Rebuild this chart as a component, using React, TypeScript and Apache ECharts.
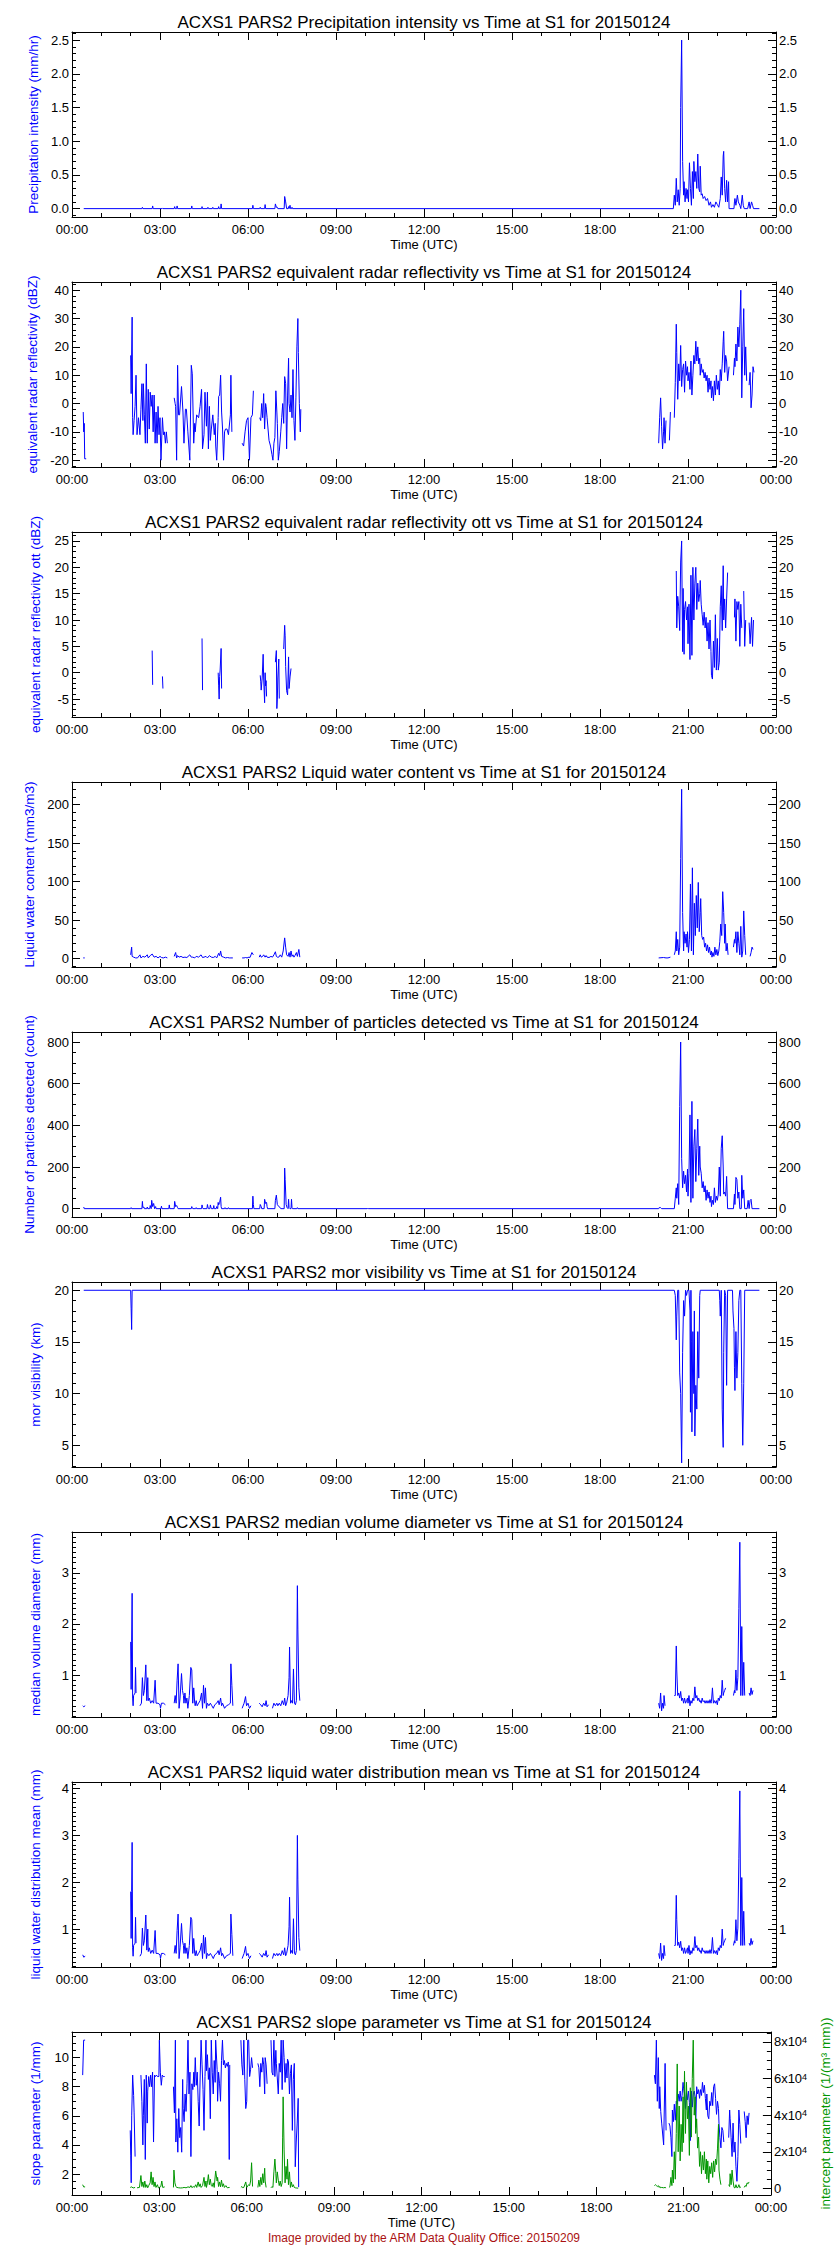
import React, { useEffect, useRef } from "react";
import * as echarts from "echarts";

type Pt = [number, number | null];

const FONT = '"Liberation Sans", Arial, Helvetica, sans-serif';
const BLUE = "#0000ff";
const GREEN = "#009600";
const FOOT_RED = "#aa1111";

// ---------- time axis (minutes since 00:00 UTC) ----------
const X_MIN = 0;
const X_MAX = 1440;
const X_MAJOR = 180;

// ---------- panel texts ----------
const TITLES = [
  "ACXS1 PARS2 Precipitation intensity vs Time at S1 for 20150124",
  "ACXS1 PARS2 equivalent radar reflectivity vs Time at S1 for 20150124",
  "ACXS1 PARS2 equivalent radar reflectivity ott vs Time at S1 for 20150124",
  "ACXS1 PARS2 Liquid water content vs Time at S1 for 20150124",
  "ACXS1 PARS2 Number of particles detected vs Time at S1 for 20150124",
  "ACXS1 PARS2 mor visibility vs Time at S1 for 20150124",
  "ACXS1 PARS2 median volume diameter vs Time at S1 for 20150124",
  "ACXS1 PARS2 liquid water distribution mean vs Time at S1 for 20150124",
  "ACXS1 PARS2 slope parameter vs Time at S1 for 20150124",
];
const Y_NAMES = [
  "Precipitation intensity (mm/hr)",
  "equivalent radar reflectivity (dBZ)",
  "equivalent radar reflectivity ott (dBZ)",
  "Liquid water content (mm3/m3)",
  "Number of particles detected (count)",
  "mor visibility (km)",
  "median volume diameter (mm)",
  "liquid water distribution mean (mm)",
  "slope parameter (1/mm)",
];
const RIGHT_NAME = "intercept parameter (1/(m\u00b3 mm))";
const FOOTNOTE = "Image provided by the ARM Data Quality Office: 20150209";

// ---------- axis ranges & ticks ----------
const Y_RANGES: [number, number][] = [
  [-0.124, 2.62],
  [-22.4, 42.9],
  [-8.4, 26.7],
  [-10.8, 229.4],
  [-40, 848],
  [2.9, 20.8],
  [0.18, 3.8],
  [0.19, 4.14],
  [0.56, 11.76],
];
const Y_TICKS: number[][] = [
  [0, 0.5, 1, 1.5, 2, 2.5],
  [-20, -10, 0, 10, 20, 30, 40],
  [-5, 0, 5, 10, 15, 20, 25],
  [0, 50, 100, 150, 200],
  [0, 200, 400, 600, 800],
  [5, 10, 15, 20],
  [1, 2, 3],
  [1, 2, 3, 4],
  [2, 4, 6, 8, 10],
];
const Y_MINOR_STEP = [0.1, 2, 1, 10, 50, 1, 0.1, 0.1, 0.5];
const Y_DECIMALS = [1, 0, 0, 0, 0, 0, 0, 0, 0];
const INTERCEPT_RANGE: [number, number] = [-3636, 85455];
const INTERCEPT_TICKS = [0, 20000, 40000, 60000, 80000];
const INTERCEPT_MINOR_STEP = 5000;

// ---------- data: [minute of day, value] ----------
const precipIntensity: Pt[] = [
  [24, 0], [143, 0], [144, 0.02], [145, 0], [164, 0], [165, 0.04], [166, 0], [184, 0], [185, 0.01], [186, 0],
  [209, 0], [210, 0.03], [211, 0], [214, 0], [215, 0.04], [216, 0], [244, 0], [245, 0.04], [246, 0],
  [265, 0], [266, 0.03], [267, 0], [277, 0], [278, 0.02], [279, 0], [287, 0], [288, 0.02], [289, 0],
  [299, 0], [300, 0.03], [301, 0], [304, 0], [305, 0.07], [306, 0], [369, 0], [370, 0.05], [371, 0],
  [384, 0], [385, 0.02], [386, 0], [394, 0], [395, 0.06], [396, 0], [415, 0], [416, 0.07], [418, 0.02],
  [420, 0.02], [421, 0], [434, 0], [435, 0.18], [437, 0.1], [438, 0.1], [439, 0], [442, 0], [443, 0.03],
  [444, 0], [445, 0], [446, 0.05], [447, 0], [449, 0], [450, 0.02], [451, 0],
  [1230, 0], [1232, 0.2], [1234, 0.05], [1236, 0.45], [1238, 0.1], [1240, 0.28], [1242, 0.05], [1244, 0.3],
  [1245, 1.5], [1247, 2.5], [1249, 0.7], [1251, 0.2], [1252, 0.4], [1254, 0.1], [1256, 0.3], [1258, 0.15],
  [1259, 0.28], [1261, 0.1], [1263, 0.68], [1265, 0.3], [1267, 0.05], [1269, 0.55], [1271, 0.15], [1272, 0.7],
  [1274, 0.4], [1276, 0.55], [1278, 0.3], [1280, 0.81], [1282, 0.3], [1284, 0.25], [1285, 0.63], [1287, 0.2],
  [1289, 0.22], [1291, 0.15], [1294, 0.18], [1297, 0.12], [1300, 0.15], [1303, 0.05], [1306, 0.1], [1308, 0.02],
  [1311, 0.06], [1314, 0.02], [1317, 0.1], [1320, 0.06], [1323, 0.02], [1326, 0.15], [1328, 0.47], [1330, 0.2],
  [1332, 0.78], [1333, 0.85], [1335, 0.3], [1337, 0.1], [1339, 0.42], [1341, 0.1], [1343, 0.4], [1344, 0],
  [1354, 0], [1355, 0.1], [1356, 0.15], [1358, 0.05], [1361, 0.2], [1363, 0.1], [1366, 0.05], [1368, 0],
  [1371, 0.2], [1373, 0.05], [1375, 0], [1382, 0], [1385, 0.1], [1387, 0], [1390, 0.1], [1392, 0.05],
  [1394, 0], [1406, 0],
];

const reflectivity: Pt[] = [
  [23, -3], [24, -10], [25, -7], [26, -19.5], [29, -19.5], [30, null],
  [120, 17], [121, 3.5], [123, 30.5], [124, -5], [125, -11], [127, -6], [129, -1], [131, 10], [133, -11],
  [136, -5], [139, -11], [141, -2], [143, 7], [145, -6], [146, 7], [148, -4], [150, -14], [152, 14], [154, -14],
  [156, 5], [158, -9], [160, 4], [162, -1], [164, 3], [166, -10], [168, 3], [170, -14], [172, -3], [174, -14],
  [176, -1], [178, -11], [180, -5], [182, -20], [185, -5], [187, -11], [189, -10], [191, -14], [193, -10],
  [195, -14], [197, null],
  [209, 2], [211, 0], [212, -1], [214, -20], [216, 13.5], [218, -4], [220, -4], [224, 6], [227, -3], [229, -14],
  [232, -2], [234, -2], [237, -10], [241, -20], [244, 13.5], [246, 10.5], [249, -14], [251, -7], [252, -10],
  [255, -4], [259, -5], [262, -1], [265, 5], [267, -16], [270, -11], [272, 4], [275, -8], [277, 4], [279, -16],
  [281, -1], [283, -13], [285, -9], [288, -4], [291, -11], [293, -7], [294, -15], [296, -20], [299, -5],
  [300, 2.5], [302, 3], [304, 10], [306, -3], [308, -9], [310, -20], [312, -10], [314, -9], [317, -9],
  [320, -11], [324, -4], [325, 10], [327, -10], [329, null],
  [348, -14], [351, -15], [354, -10], [357, -6], [360, -5], [363, -20], [366, -5], [369, -4], [371, 4.5], [373, null],
  [384, -5], [386, -6], [388, 0], [390, -5], [392, 3.5], [394, -9], [396, 0], [397, -1], [399, -5], [403, -13],
  [406, -15], [409, -18], [411, -20], [413, -14], [415, -12], [417, 4.5], [419, -3], [420, -7], [422, -20],
  [424, -17], [427, -10], [429, -5], [431, 0], [433, -7], [435, 9.5], [437, 7], [439, -16], [441, 3], [443, 16],
  [444, 0], [446, -3], [448, 3], [450, -5], [452, 12], [454, -6], [456, -13], [458, 2], [460, 20], [462, 30],
  [463, 18], [465, 0], [467, -10], [468, -2], [469, null],
  [1200, -14], [1202, -5], [1204, 2], [1206, -8], [1208, -16], [1210, -10], [1211, -5], [1213, -14], [1215, -6],
  [1217, null], [1222, -13], [1224, -3], [1226, null],
  [1232, -5], [1234, 7.5], [1236, 28], [1237, 18], [1239, 1.5], [1241, 14], [1243, 8], [1245, 20.5], [1247, 6],
  [1249, 12], [1251, 14], [1253, 4], [1255, 15], [1257, 10], [1259, 13], [1260, 8], [1262, 11], [1264, 5],
  [1266, 15], [1268, 3], [1270, 10], [1272, 17], [1274, 14], [1276, 22], [1278, 15], [1280, 20], [1282, 14],
  [1284, 16], [1285, 10], [1287, 14], [1289, 11], [1291, 12], [1293, 9], [1295, 11], [1297, 8], [1299, 10],
  [1301, 4], [1303, 9], [1305, 5], [1307, 8], [1308, 2], [1310, 6], [1312, 1], [1314, 8], [1316, 3], [1318, 10],
  [1320, 5], [1322, 8], [1324, 3], [1326, 12], [1328, 8], [1330, 14], [1332, 22], [1333, 25.5], [1335, 11],
  [1337, 17], [1339, 15], [1341, 8], [1344, 13], [1346, null],
  [1353, 10], [1355, 16], [1356, 13], [1358, 21], [1360, 15], [1362, 27], [1364, 20], [1366, 28], [1368, 40],
  [1370, 2], [1372, 20], [1374, 33.5], [1376, 10], [1378, 20], [1380, 8], [1382, null],
  [1385, 6.5], [1387, 11], [1389, -1.5], [1391, 3], [1393, 13], [1395, 11],
];

const reflectivityOtt: Pt[] = [
  [164, 4.2], [165, -2.3], [166, null], [185, -0.7], [186, -3], [187, null], [266, 6.5], [267, -3.3], [268, null],
  [299, 0], [300, -2.5], [301, -5], [302, -0.7], [303, 0.5], [305, 4.6], [306, -3], [307, null],
  [385, -0.5], [386, -1.6], [387, -3.3], [389, -1], [391, 3.5], [392, -1], [394, -5.7], [395, 0], [396, -2.5],
  [397, -1.5], [398, -4.5], [399, null],
  [416, 2], [418, 4.2], [419, -6.8], [420, -5], [421, -1], [423, 2.6], [424, -4.9], [425, null],
  [433, 4.5], [435, 9], [436, 7], [437, 1.2], [439, -3.4], [441, -4.2], [443, 3], [444, -3], [446, -0.8],
  [448, 0.8], [449, null],
  [1236, 19.3], [1237, 8.5], [1239, 14.5], [1241, 12.5], [1243, 8], [1245, 21], [1247, 25], [1249, 4], [1250, 16],
  [1252, 3.5], [1253, 12], [1255, 13.5], [1257, 10], [1259, 12.5], [1260, 5.5], [1262, 13], [1264, 2.5],
  [1266, 18.5], [1268, 3.3], [1270, 20], [1272, 10], [1274, 17], [1276, 20], [1278, 12], [1280, 17],
  [1282, 13.5], [1284, 15], [1285, 17.5], [1287, 13], [1289, 11], [1291, 9], [1293, 11.5], [1295, 8.5],
  [1297, 10.5], [1299, 6], [1301, 9.5], [1303, 4.5], [1305, 10], [1307, 4], [1308, -0.5], [1310, -1.2],
  [1312, 6], [1314, 1], [1316, 11], [1318, 0.5], [1320, 6.5], [1322, 0.5], [1324, 2], [1326, 12.5],
  [1328, 16.5], [1330, 8], [1332, 20.3], [1333, 10], [1335, 14], [1337, 8.5], [1339, 14], [1341, 19], [1342, null],
  [1355, 10.5], [1356, 14], [1358, 6], [1360, 13.5], [1362, 12], [1364, 13.5], [1366, 5], [1368, 13],
  [1370, 8.5], [1371, null], [1374, 15.5], [1376, 5], [1378, 10], [1379, null],
  [1385, 9.5], [1387, 5.5], [1390, 10.5], [1392, 5], [1394, 10],
];

const liquidWaterContent: Pt[] = [
  [23, 1], [26, 1], [27, null],
  [120, 5], [122, 15], [123, 3], [126, 2], [130, 1], [134, 1], [139, 5], [141, 1], [145, 3], [149, 2], [154, 5],
  [156, 1], [160, 4], [164, 6], [168, 2], [172, 3], [176, 1], [180, 3], [183, 1.5], [187, 1], [191, 2], [195, 1],
  [197, null],
  [209, 3], [212, 8], [214, 1], [216, 4], [219, 2], [223, 3], [227, 1.5], [231, 2], [235, 1.5], [241, 5], [244, 2],
  [247, 2], [251, 1], [254, 3], [259, 2], [264, 5], [267, 1.5], [270, 2], [274, 3], [277, 1], [281, 4], [285, 2],
  [289, 1.5], [293, 3], [296, 1], [300, 7], [302, 4], [304, 10], [306, 3], [310, 2], [314, 1], [318, 1.5],
  [322, 1], [325, 1], [329, 1], [331, null],
  [348, 1], [352, 1], [355, 1.5], [358, 1], [362, 2], [364, 1.5], [368, 8], [371, 5], [373, null],
  [383, 2], [385, 5], [387, 2], [390, 3], [392, 5], [395, 2], [397, 4], [399, 2], [403, 1.5], [407, 3], [410, 2],
  [413, 5], [416, 9], [418, 3], [420, 2], [423, 2], [426, 5], [429, 2], [432, 10], [435, 27], [437, 15], [439, 5],
  [442, 3], [444, 8], [446, 2], [448, 10], [450, 3], [452, 5], [454, 2], [456, 4], [459, 8], [461, 3], [464, 12],
  [466, 2], [468, null],
  [1200, 1], [1210, 1.5], [1215, 1], [1219, 1], [1224, 2], [1225, null],
  [1232, 5], [1234, 10], [1236, 35], [1237, 10], [1239, 25], [1241, 5], [1243, 15], [1245, 130], [1247, 220],
  [1249, 60], [1251, 10], [1252, 35], [1254, 20], [1256, 32], [1258, 15], [1259, 35], [1261, 8], [1263, 25],
  [1265, 97], [1267, 10], [1269, 118], [1271, 5], [1273, 72], [1275, 30], [1277, 82], [1279, 40], [1281, 99],
  [1283, 35], [1285, 60], [1286, 78], [1288, 30], [1290, 25], [1292, 28], [1294, 15], [1296, 20], [1298, 10],
  [1300, 18], [1302, 8], [1304, 15], [1306, 5], [1308, 10], [1309, 2], [1311, 8], [1313, 3], [1315, 15],
  [1317, 5], [1319, 12], [1321, 4], [1323, 10], [1325, 22], [1327, 45], [1329, 30], [1331, 87], [1333, 60],
  [1335, 20], [1336, 45], [1338, 10], [1340, 20], [1342, 5], [1343, null],
  [1353, 15], [1355, 25], [1356, 20], [1358, 35], [1360, 8], [1362, 35], [1364, 20], [1366, 5], [1368, 42],
  [1370, 2], [1372, 10], [1374, 62], [1376, 30], [1378, 5], [1379, null],
  [1387, 3], [1389, 8], [1391, 15], [1393, 12],
];

const particleCount: Pt[] = [
  [24, 8], [25, 0], [120, 0], [121, 5], [122, 0], [143, 0], [144, 35], [145, 5], [147, 8], [148, 0], [153, 0],
  [154, 8], [155, 0], [159, 0], [160, 15], [162, 0], [163, 40], [165, 10], [167, 25], [169, 0], [171, 10],
  [172, 0], [182, 0], [183, 12], [184, 0], [198, 0], [199, 18], [200, 0], [209, 0], [210, 35], [212, 10],
  [214, 15], [216, 5], [217, 0], [244, 0], [245, 10], [246, 5], [247, 0], [253, 0], [254, 5], [255, 0],
  [265, 0], [266, 18], [267, 5], [268, 0], [276, 0], [277, 20], [278, 8], [279, 0], [282, 0], [283, 18],
  [284, 8], [285, 0], [289, 0], [290, 15], [291, 0], [295, 0], [296, 10], [298, 0], [299, 30], [300, 18],
  [302, 30], [304, 55], [305, 10], [306, 0], [312, 0], [313, 5], [314, 0], [319, 0], [320, 5], [321, 0],
  [369, 0], [370, 60], [371, 20], [372, 0], [384, 0], [385, 20], [387, 10], [388, 0], [393, 0], [394, 45],
  [396, 25], [398, 30], [399, 10], [400, 0], [415, 0], [416, 40], [418, 65], [420, 20], [423, 10], [426, 5],
  [427, 0], [434, 0], [435, 195], [436, 140], [437, 80], [438, 20], [440, 5], [442, 0], [443, 45], [444, 5],
  [446, 0], [448, 0], [449, 45], [450, 5], [451, 0], [460, 0], [461, 5], [462, 0], [604, 0], [605, 3], [606, 0],
  [1200, 0], [1201, 5], [1204, 5], [1206, 0], [1232, 0], [1234, 50], [1236, 100], [1237, 50], [1239, 120],
  [1241, 20], [1243, 490], [1245, 800], [1247, 240], [1249, 100], [1251, 180], [1253, 120], [1255, 160],
  [1257, 80], [1259, 190], [1260, 60], [1262, 170], [1264, 450], [1266, 30], [1268, 515], [1270, 50],
  [1272, 300], [1274, 380], [1276, 130], [1278, 290], [1280, 430], [1282, 160], [1284, 300], [1285, 200],
  [1287, 170], [1289, 100], [1291, 130], [1293, 80], [1295, 110], [1297, 40], [1299, 90], [1301, 50],
  [1303, 80], [1305, 30], [1307, 60], [1308, 10], [1310, 40], [1312, 20], [1314, 100], [1316, 30], [1318, 60],
  [1320, 40], [1322, 70], [1324, 200], [1326, 60], [1328, 290], [1330, 350], [1332, 200], [1333, 70],
  [1335, 80], [1337, 60], [1339, 155], [1341, 0], [1353, 0], [1355, 70], [1356, 20], [1358, 150], [1360, 140],
  [1362, 50], [1364, 80], [1366, 0], [1369, 0], [1370, 160], [1372, 50], [1374, 90], [1376, 0], [1381, 0],
  [1383, 40], [1385, 0], [1387, 40], [1389, 45], [1391, 0], [1406, 0],
];

const morVisibility: Pt[] = [
  [24, 20], [120, 20], [121, 18.2], [122, 16.2], [123, 20], [1232, 20], [1234, 19.5], [1236, 15.2], [1237, 17.5],
  [1239, 20], [1241, 20], [1243, 12], [1245, 10], [1247, 3.3], [1249, 14], [1251, 19], [1253, 17.5], [1255, 20],
  [1257, 19.5], [1259, 20], [1262, 20], [1264, 18], [1265, 8.2], [1266, 20], [1267, 15], [1268, 6.3], [1270, 16],
  [1272, 10], [1273, 18], [1274, 5.9], [1276, 10.8], [1278, 8.5], [1280, 16], [1282, 11.5], [1284, 19.5],
  [1285, 20], [1324, 20], [1325, 19], [1326, 17.5], [1328, 20], [1330, 8.5], [1332, 4.8], [1333, 14], [1335, 20],
  [1337, 19.5], [1339, 10.8], [1341, 20], [1351, 20], [1352, 18], [1354, 16.3], [1355, 12.5], [1356, 10.3],
  [1358, 16], [1360, 11.5], [1362, 14], [1364, 19], [1366, 20], [1368, 20], [1370, 11], [1372, 5], [1374, 11],
  [1376, 20], [1406, 20],
];

const medianVolumeDiameter: Pt[] = [
  [22, 0.4], [24, 0.38], [27, 0.4], [28, null],
  [120, 1.65], [121, 0.72], [122, 1.65], [123, 2.6], [124, 0.55], [125, 0.4], [126, 0.6], [129, 0.65], [130, 1.15],
  [131, 0.65], [133, null], [139, 0.4], [142, 0.45], [144, 0.95], [146, 0.6], [148, 0.7], [151, 1.2], [153, 0.5],
  [155, 0.95], [156, 0.5], [158, 0.55], [161, 0.45], [164, 0.5], [167, 0.45], [170, 0.9], [172, 0.45],
  [176, 0.45], [180, 0.42], [181, 0.35], [183, 0.45], [187, 0.45], [191, 0.42], [192, null],
  [209, 0.45], [211, 0.6], [213, 0.45], [215, 0.9], [217, 1.22], [219, 0.35], [221, 0.55], [224, 1.03], [226, 0.7],
  [228, 0.6], [229, 0.45], [231, 0.65], [233, 0.45], [235, 0.55], [237, 0.35], [240, 0.6], [243, 1.15],
  [245, 1.1], [247, 0.45], [249, 0.75], [251, 0.45], [252, 0.4], [254, 0.5], [256, 0.4], [259, 0.45], [262, 0.5],
  [265, 0.65], [267, 0.35], [269, 0.8], [271, 0.45], [273, 0.75], [275, 0.35], [277, 0.45], [280, 0.4],
  [283, 0.45], [286, 0.4], [289, 0.35], [292, 0.42], [296, 0.45], [299, 0.5], [301, 0.42], [304, 0.55],
  [306, 0.4], [308, 0.45], [312, 0.35], [316, 0.4], [320, 0.42], [324, 0.45], [325, 1.22], [327, 0.8],
  [329, 0.4], [330, null],
  [348, 0.35], [352, 0.45], [355, 0.58], [357, 0.4], [360, 0.45], [363, 0.35], [366, 0.4], [367, null],
  [383, 0.45], [386, 0.42], [389, 0.38], [392, 0.45], [395, 0.4], [397, 0.5], [399, 0.38], [402, 0.42], [403, null],
  [410, 0.35], [413, 0.45], [416, 0.4], [419, 0.45], [421, 0.4], [424, 0.45], [427, 0.4], [430, 0.5], [433, 0.42],
  [435, 0.55], [437, 0.4], [439, 0.45], [442, 0.6], [444, 0.95], [445, 1.55], [447, 0.45], [449, 0.5],
  [451, 0.45], [453, 1.12], [455, 0.45], [457, 0.42], [459, 0.5], [461, 2.75], [462, 1.9], [464, 0.75],
  [466, 0.5], [467, null],
  [1200, 0.45], [1202, 0.35], [1204, 0.65], [1206, 0.3], [1208, 0.45], [1210, 0.35], [1211, 0.6], [1213, 0.4],
  [1214, null], [1220, 0.7], [1221, null],
  [1232, 0.6], [1234, 0.6], [1236, 1.57], [1237, 1.1], [1239, 0.6], [1241, 0.65], [1243, 0.55], [1245, 0.68],
  [1247, 0.5], [1249, 0.55], [1251, 0.45], [1253, 0.55], [1255, 0.45], [1257, 0.5], [1259, 0.55], [1260, 0.45],
  [1262, 0.6], [1264, 0.4], [1266, 0.5], [1268, 0.45], [1270, 0.55], [1272, 0.5], [1274, 0.77], [1276, 0.55],
  [1278, 0.6], [1280, 0.5], [1282, 0.55], [1284, 0.48], [1285, 0.5], [1287, 0.45], [1289, 0.55], [1291, 0.48],
  [1293, 0.5], [1295, 0.45], [1297, 0.5], [1299, 0.45], [1301, 0.5], [1303, 0.45], [1305, 0.52], [1307, 0.45],
  [1308, 0.48], [1310, 0.75], [1312, 0.45], [1314, 0.5], [1316, 0.45], [1318, 0.5], [1320, 0.42], [1322, 0.55],
  [1324, 0.5], [1326, 0.6], [1328, 0.55], [1330, 0.9], [1332, 0.6], [1333, 0.65], [1335, 0.7], [1337, 0.75],
  [1338, null],
  [1353, 0.6], [1355, 0.7], [1356, 0.65], [1358, 1.1], [1360, 0.7], [1362, 0.95], [1364, 2.3], [1366, 3.6],
  [1368, 0.6], [1370, 1.95], [1372, 0.6], [1374, 1.25], [1376, 0.6], [1377, null],
  [1385, 0.65], [1387, 0.6], [1389, 0.75], [1391, 0.62], [1393, 0.7],
];

const lwDistributionMean: Pt[] = [
  [22, 0.45], [24, 0.4], [27, 0.42], [28, null],
  [120, 1.8], [121, 0.8], [122, 1.8], [123, 2.85], [124, 0.6], [125, 0.42], [126, 0.65], [129, 0.7], [130, 1.25],
  [131, 0.7], [133, null], [139, 0.42], [142, 0.48], [144, 1.02], [146, 0.65], [148, 0.75], [151, 1.3], [153, 0.55],
  [155, 1.0], [156, 0.52], [158, 0.6], [161, 0.48], [164, 0.55], [167, 0.48], [170, 0.97], [172, 0.48],
  [176, 0.48], [180, 0.45], [181, 0.37], [183, 0.48], [187, 0.48], [191, 0.45], [192, null],
  [209, 0.48], [211, 0.65], [213, 0.48], [215, 0.97], [217, 1.32], [219, 0.37], [221, 0.6], [224, 1.12],
  [226, 0.75], [228, 0.65], [229, 0.48], [231, 0.7], [233, 0.48], [235, 0.6], [237, 0.37], [240, 0.65],
  [243, 1.25], [245, 1.2], [247, 0.48], [249, 0.8], [251, 0.48], [252, 0.43], [254, 0.54], [256, 0.43],
  [259, 0.48], [262, 0.54], [265, 0.7], [267, 0.37], [269, 0.87], [271, 0.48], [273, 0.82], [275, 0.37],
  [277, 0.48], [280, 0.43], [283, 0.48], [286, 0.43], [289, 0.37], [292, 0.45], [296, 0.48], [299, 0.54],
  [301, 0.45], [304, 0.6], [306, 0.43], [308, 0.48], [312, 0.37], [316, 0.43], [320, 0.45], [324, 0.48],
  [325, 1.32], [327, 0.88], [329, 0.43], [330, null],
  [348, 0.37], [352, 0.48], [355, 0.63], [357, 0.43], [360, 0.48], [363, 0.37], [366, 0.43], [367, null],
  [383, 0.48], [386, 0.45], [389, 0.4], [392, 0.48], [395, 0.43], [397, 0.54], [399, 0.4], [402, 0.45], [403, null],
  [410, 0.37], [413, 0.48], [416, 0.43], [419, 0.48], [421, 0.43], [424, 0.48], [427, 0.43], [430, 0.54],
  [433, 0.45], [435, 0.6], [437, 0.43], [439, 0.48], [442, 0.65], [444, 1.05], [445, 1.68], [447, 0.48],
  [449, 0.54], [451, 0.48], [453, 1.22], [455, 0.48], [457, 0.45], [459, 0.54], [461, 3.0], [462, 2.05],
  [464, 0.82], [466, 0.54], [467, null],
  [1200, 0.48], [1202, 0.37], [1204, 0.7], [1206, 0.33], [1208, 0.48], [1210, 0.37], [1211, 0.65], [1213, 0.43],
  [1214, null], [1220, 0.77], [1221, null],
  [1232, 0.65], [1234, 0.65], [1236, 1.72], [1237, 1.2], [1239, 0.65], [1241, 0.72], [1243, 0.6], [1245, 0.74],
  [1247, 0.54], [1249, 0.6], [1251, 0.48], [1253, 0.6], [1255, 0.48], [1257, 0.54], [1259, 0.6], [1260, 0.48],
  [1262, 0.65], [1264, 0.45], [1266, 0.54], [1268, 0.48], [1270, 0.6], [1272, 0.54], [1274, 0.84], [1276, 0.6],
  [1278, 0.65], [1280, 0.54], [1282, 0.6], [1284, 0.52], [1285, 0.54], [1287, 0.48], [1289, 0.6], [1291, 0.52],
  [1293, 0.54], [1295, 0.48], [1297, 0.54], [1299, 0.48], [1301, 0.54], [1303, 0.48], [1305, 0.56], [1307, 0.48],
  [1308, 0.52], [1310, 0.82], [1312, 0.48], [1314, 0.54], [1316, 0.48], [1318, 0.54], [1320, 0.45], [1322, 0.6],
  [1324, 0.54], [1326, 0.65], [1328, 0.6], [1330, 1.0], [1332, 0.65], [1333, 0.7], [1335, 0.75], [1337, 0.8],
  [1338, null],
  [1353, 0.65], [1355, 0.75], [1356, 0.7], [1358, 1.2], [1360, 0.75], [1362, 1.02], [1364, 2.5], [1366, 3.95],
  [1368, 0.65], [1370, 2.1], [1372, 0.65], [1374, 1.38], [1376, 0.65], [1377, null],
  [1385, 0.7], [1387, 0.65], [1389, 0.8], [1391, 0.67], [1393, 0.75],
];

const slopeParameter: Pt[] = [
  [22, 8.8], [24, 11.2], [27, 11.2], [28, null],
  [120, 5], [121, 3.3], [122, 1.4], [123, 6], [125, 8.8], [127, 7.4], [128, 6.2], [130, 3.2], [131, null],
  [142, 8.8], [144, 7], [146, 4], [147, 6], [149, 8.5], [151, 3], [153, 8.8], [155, 5.5], [156, 7.7], [158, 8.7],
  [160, 8], [162, 8.8], [164, 8], [166, 9], [168, 4.2], [170, 8.8], [172, 8.7], [174, 8.8], [176, 8.7],
  [179, 8.7], [180, 11.2], [182, 9], [184, 8.1], [186, 8.8], [188, 8.7], [191, 8.7], [192, null],
  [209, 8], [211, 6.2], [213, 11.2], [214, 4.2], [216, 5.8], [218, 3.5], [220, 6.5], [222, 4.5], [224, 5.2],
  [226, 3.5], [228, 8.5], [229, 6.5], [231, 5.6], [233, 7.5], [235, 6.3], [237, 8.2], [239, 11.2], [241, 7.5],
  [243, 9], [245, 3.2], [247, 8.2], [249, 7.8], [251, 9], [252, 8], [254, 10], [256, 8.1], [258, 9], [260, 7],
  [262, 5.3], [264, 8.6], [266, 11.2], [268, 9.5], [270, 7.8], [272, 5], [274, 8.7], [276, 11.2], [277, 9.1],
  [279, 10.2], [281, 8.5], [283, 9.3], [285, 5.8], [287, 11.2], [289, 9], [291, 7.5], [293, 9.8], [295, 8.3],
  [296, 11.2], [299, 9.2], [300, 7], [302, 9], [304, 8.2], [306, 7], [308, 9.8], [310, 11.2], [312, 9.5],
  [314, 9.8], [316, 9.3], [318, 9.6], [320, 9.4], [322, 9.7], [324, 3], [325, 9.5], [326, null],
  [348, 11.2], [350, 9.5], [352, 8.8], [354, 11.2], [356, 8.5], [358, 6.5], [360, 7], [362, 11.2], [364, 11.2],
  [366, 8.7], [368, 9.2], [370, 10], [372, 9.3], [373, null],
  [383, 9.6], [385, 9.3], [387, 8], [389, 9.6], [391, 9], [393, 10], [395, 9.5], [397, 7.5], [398, 10],
  [400, 9.5], [402, 8.2], [403, null],
  [410, 11.2], [412, 9], [414, 8.8], [416, 11.2], [418, 8.7], [420, 10.5], [421, 9.6], [423, 8.6], [425, 7.5],
  [427, 9.6], [429, 9], [431, 11.2], [433, 7.8], [435, 11.2], [437, 10], [439, 8.3], [441, 9.6], [443, 8.6],
  [444, 9.9], [446, 9.7], [448, 7.5], [450, 8.9], [452, 9.5], [454, 5], [456, 8.5], [458, 9.6], [460, 2.5],
  [462, 4.2], [464, 5.5], [466, 7.2], [467, 1.1], [468, null],
  [1200, 8.8], [1202, 8.2], [1204, 11.2], [1206, 7], [1208, 10], [1210, 6.5], [1211, 8], [1213, 6.3], [1215, 5.5],
  [1219, 4], [1222, 9.6], [1224, 5], [1225, null],
  [1230, 5.5], [1232, 5.3], [1234, 4.5], [1236, 3.2], [1237, 6.4], [1239, 5.6], [1241, 6.8], [1243, 5.7],
  [1245, 7], [1247, 6.8], [1249, 7.5], [1251, 7], [1253, 7.7], [1255, 7], [1257, 7.4], [1259, 8.3], [1260, 7.9],
  [1262, 7.5], [1264, 6.5], [1266, 7.6], [1268, 7.1], [1270, 7.7], [1272, 6.9], [1274, 4.3], [1276, 7.7],
  [1278, 6.6], [1280, 7.5], [1282, 7.7], [1284, 7.3], [1285, 5.2], [1287, 8], [1289, 7.5], [1291, 7.8],
  [1293, 7.2], [1295, 7.8], [1297, 7.4], [1299, 8.3], [1301, 7.6], [1303, 8.1], [1305, 7.2], [1307, 6.4],
  [1308, 7.5], [1310, 6], [1312, 5.8], [1314, 7], [1316, 6.7], [1318, 7.6], [1320, 6.7], [1322, 8], [1324, 8.2],
  [1326, 7.2], [1328, 6.1], [1330, 7], [1332, 6.5], [1333, 5.5], [1335, 4.5], [1337, 3.8], [1339, 5.2],
  [1341, 5], [1343, 4.2], [1344, null],
  [1353, 4.5], [1355, 6.4], [1356, 5.8], [1358, 4.5], [1360, 3.2], [1362, 5.5], [1364, 3.5], [1366, 4.2],
  [1368, 2.5], [1370, 1.5], [1372, 3.2], [1374, 6.4], [1376, 5.4], [1378, 4.1], [1379, null],
  [1385, 6.3], [1387, 5.6], [1389, 4.5], [1391, 6], [1393, 5.4], [1395, 6.2],
];

const interceptParameter: Pt[] = [
  [22, 2000], [24, 800], [27, 800], [28, null],
  [120, 500], [123, 800], [126, 200], [130, 500], [131, null],
  [134, 300], [139, 500], [142, 7000], [144, 1000], [146, 3500], [148, 500], [150, 4000], [152, 500], [154, 2000],
  [156, 300], [158, 1500], [161, 3000], [163, 9000], [165, 2000], [167, 6000], [169, 1000], [171, 3500],
  [173, 500], [176, 2000], [178, 300], [180, 500], [183, 1000], [185, 4000], [187, 500], [191, 800], [192, null],
  [209, 500], [210, 10000], [212, 3000], [214, 1000], [216, 500], [220, 300], [224, 200], [228, 300], [231, 500],
  [235, 300], [239, 800], [243, 500], [245, 1500], [247, 400], [250, 1000], [252, 500], [255, 2000], [257, 500],
  [260, 3500], [262, 1000], [264, 2500], [266, 500], [269, 1500], [272, 6000], [274, 1000], [276, 4000],
  [277, 500], [279, 3000], [281, 7500], [283, 2000], [285, 5000], [287, 1500], [289, 1000], [291, 3000],
  [293, 500], [296, 9500], [299, 4000], [300, 6000], [302, 1000], [304, 3500], [306, 800], [308, 4500],
  [310, 1000], [312, 2500], [314, 500], [317, 1500], [320, 300], [324, 500], [325, 200], [326, null],
  [348, 500], [350, 1000], [352, 300], [354, 500], [358, 3500], [360, 500], [364, 2000], [366, 1500],
  [368, 4000], [370, 14000], [372, 1000], [373, null],
  [383, 500], [385, 4500], [387, 1000], [389, 6000], [391, 2000], [393, 8000], [395, 3000], [397, 11000],
  [398, 4000], [400, 500], [401, null],
  [410, 300], [412, 1000], [414, 500], [416, 9000], [418, 16000], [420, 8000], [421, 3000], [423, 9000],
  [425, 4500], [427, 1500], [429, 4000], [431, 1000], [433, 3000], [434, 28000], [435, 50000], [437, 21000],
  [439, 3000], [441, 12000], [443, 5000], [444, 16000], [446, 2000], [448, 9000], [450, 500], [452, 3500],
  [454, 800], [456, 2000], [458, 500], [460, 300], [462, 200], [466, 100], [467, null],
  [1200, 1500], [1202, 2000], [1204, 1500], [1206, 1000], [1208, 1500], [1210, 500], [1211, 1000], [1213, 300],
  [1215, 500], [1219, 300], [1222, 500], [1224, 200], [1225, null],
  [1230, 500], [1232, 1000], [1234, 6000], [1236, 1500], [1237, 10000], [1239, 3000], [1241, 20000],
  [1243, 5000], [1245, 30000], [1247, 68000], [1249, 20000], [1251, 45000], [1253, 15000], [1255, 35000],
  [1257, 20000], [1259, 50000], [1260, 25000], [1262, 64000], [1264, 30000], [1266, 58000], [1268, 38000],
  [1270, 45000], [1272, 18000], [1274, 55000], [1276, 28000], [1278, 60000], [1280, 81000], [1282, 40000],
  [1284, 50000], [1285, 30000], [1287, 38000], [1289, 22000], [1291, 28000], [1293, 12000], [1295, 20000],
  [1297, 8000], [1299, 18000], [1301, 10000], [1303, 20000], [1305, 8000], [1307, 16000], [1308, 5000],
  [1310, 15000], [1312, 3000], [1314, 12000], [1316, 8000], [1318, 14000], [1320, 6000], [1322, 15000],
  [1324, 9000], [1326, 16000], [1328, 13000], [1330, 22000], [1332, 35000], [1333, 10000], [1335, 5000],
  [1337, 2000], [1338, null],
  [1353, 2000], [1355, 1000], [1356, 8000], [1358, 2000], [1360, 10000], [1362, 4000], [1364, 500], [1366, 200],
  [1368, 2000], [1370, 300], [1372, 500], [1374, 2000], [1376, 300], [1378, 800], [1379, null],
  [1385, 500], [1387, 1500], [1389, 1000], [1391, 3000], [1393, 2500], [1395, 3500],
];

const PANEL_SERIES: Pt[][] = [
  precipIntensity,
  reflectivity,
  reflectivityOtt,
  liquidWaterContent,
  particleCount,
  morVisibility,
  medianVolumeDiameter,
  lwDistributionMean,
  slopeParameter,
];

// ---------- layout ----------
const GRID_LEFT = 72;
const GRID_WIDTH = 704;
const PANEL_STEP = 250;
const FIRST_TOP = 32;
const PANEL_HEIGHT = 185;
const LAST_PANEL_HEIGHT = 163;

function stepValues(min: number, max: number, step: number): number[] {
  const out: number[] = [];
  const start = Math.ceil(min / step - 1e-9);
  const end = Math.floor(max / step + 1e-9);
  for (let k = start; k <= end; k++) out.push(parseFloat((k * step).toFixed(6)));
  return out;
}

function timeLabel(v: number): string {
  const h = Math.round(v / 60) % 24;
  return (h < 10 ? "0" : "") + h + ":00";
}

function buildOption() {
  const grid: any[] = [];
  const xAxis: any[] = [];
  const yAxis: any[] = [];
  const series: any[] = [];
  const graphic: any[] = [];

  const axisLineStyle = { show: true, onZero: false, lineStyle: { color: "#000", width: 1 } };

  for (let i = 0; i < 9; i++) {
    const top = FIRST_TOP + PANEL_STEP * i;
    const height = i < 8 ? PANEL_HEIGHT : LAST_PANEL_HEIGHT;
    grid.push({ left: GRID_LEFT, top, width: GRID_WIDTH, height, containLabel: false });

    const xCommon = {
      type: "value",
      gridIndex: i,
      min: X_MIN,
      max: X_MAX,
      interval: X_MAJOR,
      axisLine: axisLineStyle,
      axisTick: { show: true, inside: true, length: 8, lineStyle: { color: "#000", width: 1 } },
      minorTick: { show: true, splitNumber: 3, length: 4, lineStyle: { color: "#000", width: 1 } },
      splitLine: { show: false },
      minorSplitLine: { show: false },
    };
    xAxis.push({
      ...xCommon,
      position: "bottom",
      name: "Time (UTC)",
      nameLocation: "middle",
      nameGap: 21,
      nameTextStyle: { color: "#000", fontSize: 13, fontFamily: FONT },
      axisLabel: { show: true, formatter: timeLabel, color: "#000", fontSize: 13, fontFamily: FONT, margin: 6 },
    });
    xAxis.push({ ...xCommon, position: "top", axisLabel: { show: false } });

    const [ymin, ymax] = Y_RANGES[i];
    const ticks = Y_TICKS[i];
    const minor = stepValues(ymin, ymax, Y_MINOR_STEP[i]);
    const dec = Y_DECIMALS[i];
    const fmt = (v: number) => v.toFixed(dec);
    const yBase = {
      type: "value",
      gridIndex: i,
      min: ymin,
      max: ymax,
      splitLine: { show: false },
    };
    const labelStyle = { color: "#000", fontSize: 13, fontFamily: FONT, margin: 3 };
    yAxis.push({
      ...yBase,
      position: "left",
      name: Y_NAMES[i],
      nameLocation: "middle",
      nameGap: 30,
      nameTextStyle: { color: BLUE, fontSize: 13.5, fontFamily: FONT },
      axisLine: axisLineStyle,
      axisTick: { show: true, inside: true, length: 8, customValues: ticks, lineStyle: { color: "#000" } },
      axisLabel: { show: true, customValues: ticks, formatter: fmt, ...labelStyle },
    });
    yAxis.push({
      ...yBase,
      position: "left",
      axisLine: { show: false, onZero: false },
      axisTick: { show: true, inside: true, length: 4, customValues: minor, lineStyle: { color: "#000" } },
      axisLabel: { show: false },
    });
    if (i < 8) {
      yAxis.push({
        ...yBase,
        position: "right",
        axisLine: axisLineStyle,
        axisTick: { show: true, inside: true, length: 8, customValues: ticks, lineStyle: { color: "#000" } },
        axisLabel: { show: true, customValues: ticks, formatter: fmt, ...labelStyle },
      });
      yAxis.push({
        ...yBase,
        position: "right",
        axisLine: { show: false, onZero: false },
        axisTick: { show: true, inside: true, length: 4, customValues: minor, lineStyle: { color: "#000" } },
        axisLabel: { show: false },
      });
    } else {
      const [rmin, rmax] = INTERCEPT_RANGE;
      const rMinor = stepValues(rmin, rmax, INTERCEPT_MINOR_STEP);
      yAxis.push({
        type: "value",
        gridIndex: i,
        min: rmin,
        max: rmax,
        position: "right",
        splitLine: { show: false },
        name: RIGHT_NAME,
        nameLocation: "middle",
        nameGap: 46,
        nameTextStyle: { color: GREEN, fontSize: 13.5, fontFamily: FONT },
        axisLine: axisLineStyle,
        axisTick: { show: true, inside: true, length: 8, customValues: INTERCEPT_TICKS, lineStyle: { color: "#000" } },
        axisLabel: {
          show: true,
          customValues: INTERCEPT_TICKS,
          formatter: (v: number) => (v === 0 ? "0" : `{m|${Math.round(v / 10000)}x10}{s|4}`),
          ...labelStyle,
          rich: {
            m: { fontSize: 13, fontFamily: FONT, color: "#000" },
            s: { fontSize: 9, fontFamily: FONT, color: "#000", verticalAlign: "top" },
          },
        },
      });
      yAxis.push({
        type: "value",
        gridIndex: i,
        min: rmin,
        max: rmax,
        position: "right",
        splitLine: { show: false },
        axisLine: { show: false, onZero: false },
        axisTick: { show: true, inside: true, length: 4, customValues: rMinor, lineStyle: { color: "#000" } },
        axisLabel: { show: false },
      });
    }

    series.push({
      type: "line",
      xAxisIndex: 2 * i,
      yAxisIndex: 4 * i,
      data: PANEL_SERIES[i],
      showSymbol: false,
      symbol: "none",
      connectNulls: false,
      lineStyle: { color: BLUE, width: 1 },
      itemStyle: { color: BLUE },
      emphasis: { disabled: true },
      clip: true,
      z: 3,
    });
    if (i === 8) {
      series.push({
        type: "line",
        xAxisIndex: 2 * i,
        yAxisIndex: 4 * i + 2,
        data: interceptParameter,
        showSymbol: false,
        symbol: "none",
        connectNulls: false,
        lineStyle: { color: GREEN, width: 1 },
        itemStyle: { color: GREEN },
        emphasis: { disabled: true },
        clip: true,
        z: 4,
      });
    }

    graphic.push({
      type: "text",
      x: GRID_LEFT + GRID_WIDTH / 2,
      y: top - 10,
      style: {
        text: TITLES[i],
        fill: "#000",
        font: `17px ${FONT}`,
        align: "center",
        verticalAlign: "middle",
      },
    });
  }

  graphic.push({
    type: "text",
    x: GRID_LEFT + GRID_WIDTH / 2,
    y: 2238,
    style: {
      text: FOOTNOTE,
      fill: FOOT_RED,
      font: `12px ${FONT}`,
      align: "center",
      verticalAlign: "middle",
    },
  });

  return {
    animation: false,
    backgroundColor: "#ffffff",
    grid,
    xAxis,
    yAxis,
    series,
    graphic,
  };
}

export default function App() {
  const ref = useRef<HTMLDivElement | null>(null);
  useEffect(() => {
    if (!ref.current) return;
    const chart = echarts.init(ref.current, null, { renderer: "svg", width: 840, height: 2250 });
    chart.setOption(buildOption() as any);
    return () => chart.dispose();
  }, []);
  return (
    <div
      ref={ref}
      style={{ position: "absolute", left: 0, top: 0, width: 840, height: 2250, background: "#fff" }}
    />
  );
}
